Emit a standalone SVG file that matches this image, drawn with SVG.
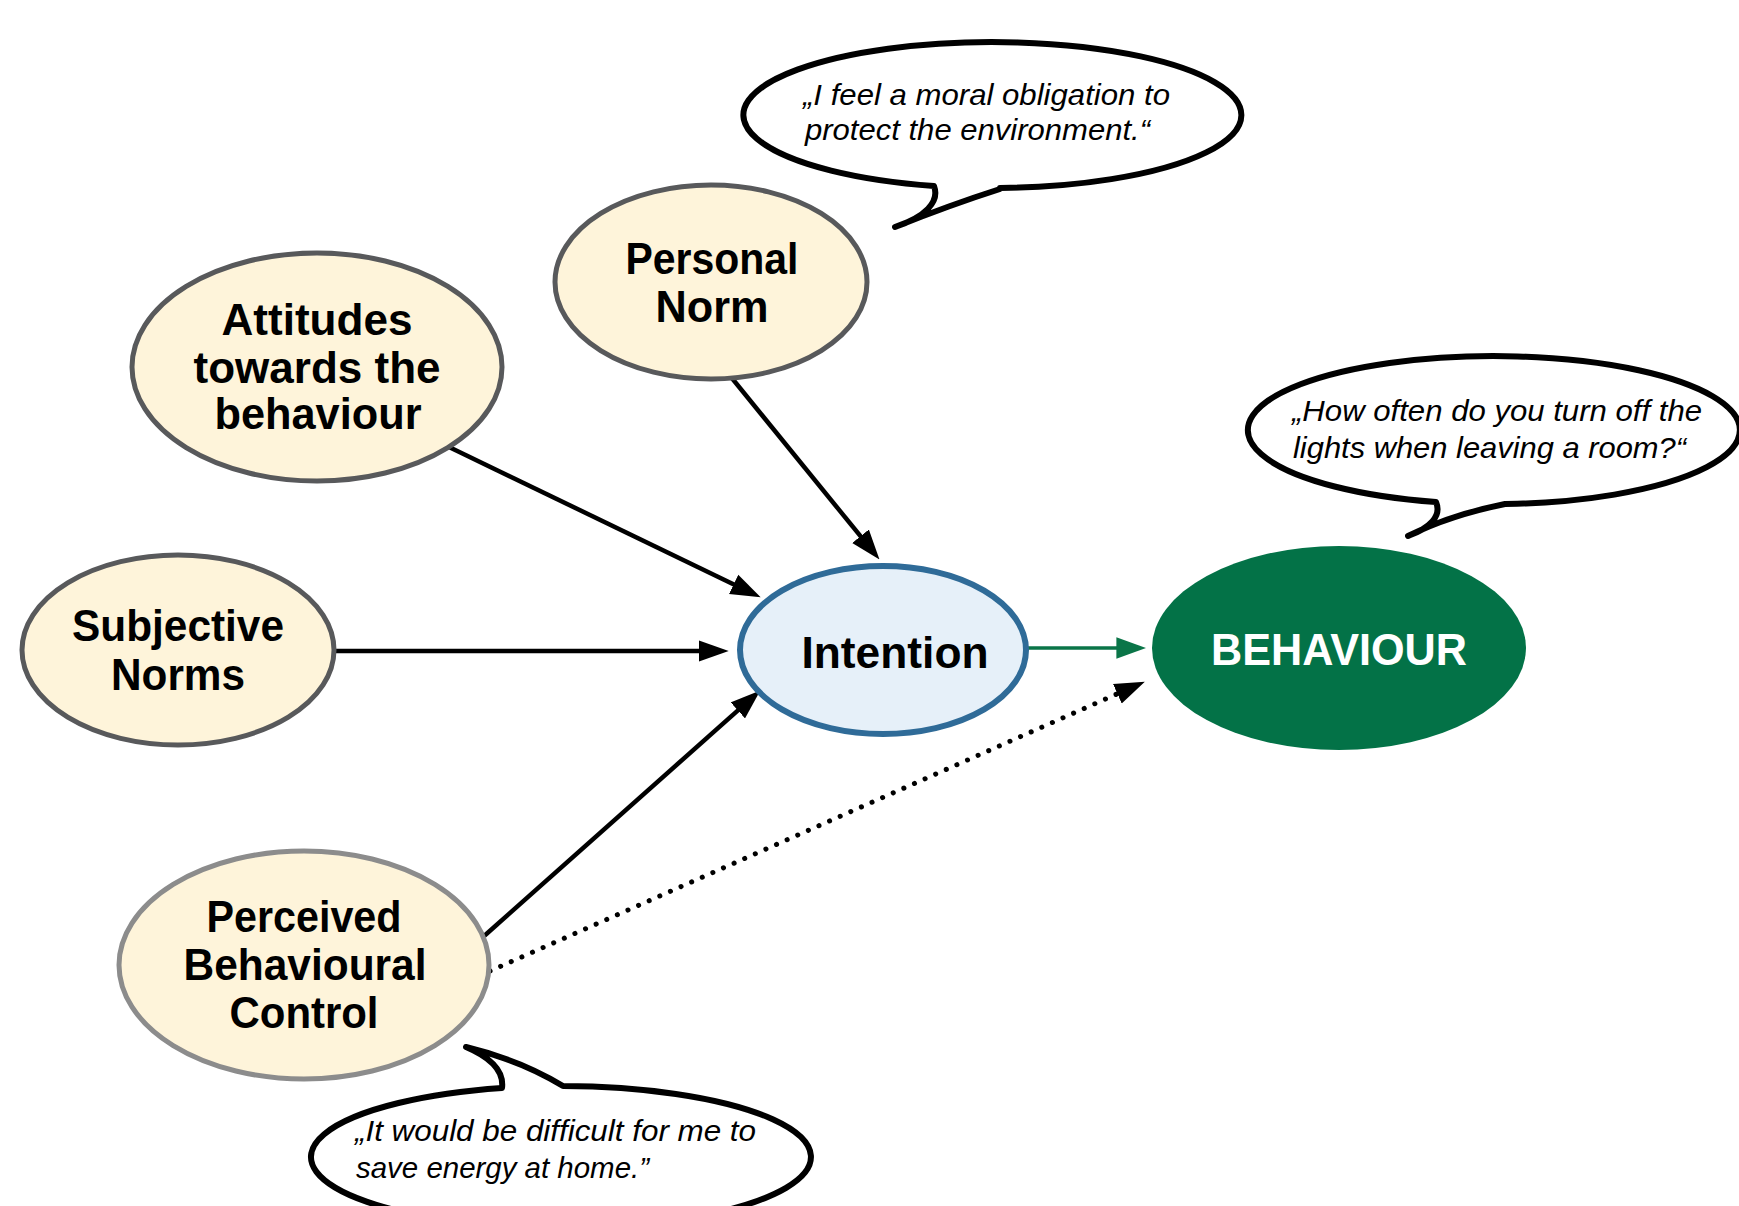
<svg xmlns="http://www.w3.org/2000/svg" width="1739" height="1206" viewBox="0 0 1739 1206">
<style>
.bg{fill:#ffffff}
.node{fill:#fef4da;stroke:#58595b;stroke-width:5}
.node2{fill:#fef4da;stroke:#8c8c8c;stroke-width:5}
.lbl{font-family:"Liberation Sans",Arial,sans-serif;font-weight:bold;font-size:44px;fill:#000;text-anchor:middle}
.quote{font-family:"Liberation Sans",Arial,sans-serif;font-style:italic;font-size:30px;fill:#000}
.bubble{fill:#fff;stroke:#000;stroke-width:6;stroke-linejoin:round}
.arr{fill:none;stroke:#000;stroke-width:4.5}
</style>
<defs>
<marker id="ah" markerUnits="userSpaceOnUse" markerWidth="30" markerHeight="22" refX="18" refY="10" orient="auto" viewBox="0 0 28 20">
<path d="M0,0 L28,10 L0,20 z" fill="#000"/>
</marker>
<marker id="ahg" markerUnits="userSpaceOnUse" markerWidth="30" markerHeight="22" refX="19" refY="10.5" orient="auto" viewBox="0 0 29 21">
<path d="M0,0 L29,10.5 L0,21 z" fill="#0a7548"/>
</marker>
<filter id="soft" x="-5%" y="-5%" width="110%" height="110%"><feGaussianBlur stdDeviation="0.7"/></filter>
</defs>
<rect class="bg" x="0" y="0" width="1739" height="1206"/>

<g id="connectors">
<line class="arr" x1="449" y1="447" x2="751" y2="592.7" marker-end="url(#ah)"/>
<line class="arr" x1="731" y1="377" x2="872.7" y2="551.2" marker-end="url(#ah)"/>
<line class="arr" x1="332" y1="651" x2="718" y2="651" marker-end="url(#ah)"/>
<line class="arr" x1="483" y1="937" x2="752.3" y2="697.6" marker-end="url(#ah)"/>
<line x1="1028" y1="648" x2="1136" y2="648" stroke="#0a7548" stroke-width="3.5" marker-end="url(#ahg)"/>
<line x1="490" y1="971" x2="1135" y2="686" stroke="#000" stroke-width="5" stroke-linecap="round" stroke-dasharray="0.1 11.5" marker-end="url(#ah)"/>
</g>

<g id="bubble-personal">
<path class="bubble" filter="url(#soft)" d="M1000 188 A249 73 0 1 0 934 186 C940 202 925 217 895 227 Q950 205 1000 189 Z"/>
<text class="quote" x="803" y="105" textLength="367" lengthAdjust="spacingAndGlyphs">„I feel a moral obligation to</text>
<text class="quote" x="805" y="140" textLength="345" lengthAdjust="spacingAndGlyphs">protect the environment.“</text>
</g>

<g id="bubble-behaviour">
<path class="bubble" filter="url(#soft)" d="M1505 504 A246 74 0 1 0 1436 502 C1442 516 1430 528 1408 536 Q1450 515 1505 504 Z"/>
<text class="quote" x="1292" y="421" textLength="410" lengthAdjust="spacingAndGlyphs">„How often do you turn off the</text>
<text class="quote" x="1293" y="458" textLength="393" lengthAdjust="spacingAndGlyphs">lights when leaving a room?“</text>
</g>

<g id="bubble-pbc">
<path class="bubble" filter="url(#soft)" d="M502 1088 A250 71 0 1 0 563 1086 Q520 1060 466 1047 C492 1058 504 1072 502 1088 Z"/>
<text class="quote" x="355" y="1141" textLength="401" lengthAdjust="spacingAndGlyphs">„It would be difficult for me to</text>
<text class="quote" x="356" y="1178" textLength="293" lengthAdjust="spacingAndGlyphs">save energy at home.”</text>
</g>

<g id="node-attitudes">
<ellipse class="node" cx="317" cy="367" rx="185" ry="114"/>
<text class="lbl" x="317" y="335" textLength="191" lengthAdjust="spacingAndGlyphs">Attitudes</text>
<text class="lbl" x="317" y="383" textLength="247" lengthAdjust="spacingAndGlyphs">towards the</text>
<text class="lbl" x="318" y="429" textLength="207" lengthAdjust="spacingAndGlyphs">behaviour</text>
</g>

<g id="node-personal">
<ellipse class="node" cx="711" cy="282" rx="156" ry="97"/>
<text class="lbl" x="712" y="274" textLength="173" lengthAdjust="spacingAndGlyphs">Personal</text>
<text class="lbl" x="712" y="322" textLength="113" lengthAdjust="spacingAndGlyphs">Norm</text>
</g>

<g id="node-subjective">
<ellipse class="node" cx="178" cy="650" rx="156" ry="95"/>
<text class="lbl" x="178" y="641" textLength="212" lengthAdjust="spacingAndGlyphs">Subjective</text>
<text class="lbl" x="178" y="690" textLength="134" lengthAdjust="spacingAndGlyphs">Norms</text>
</g>

<g id="node-pbc">
<ellipse class="node2" cx="304" cy="965" rx="185" ry="114"/>
<text class="lbl" x="304" y="932" textLength="195" lengthAdjust="spacingAndGlyphs">Perceived</text>
<text class="lbl" x="305" y="980" textLength="243" lengthAdjust="spacingAndGlyphs">Behavioural</text>
<text class="lbl" x="304" y="1028" textLength="149" lengthAdjust="spacingAndGlyphs">Control</text>
</g>

<g id="node-intention">
<ellipse cx="883" cy="650" rx="143" ry="84" fill="#e6f0f9" stroke="#2f6b98" stroke-width="6"/>
<text class="lbl" x="895" y="668" textLength="187" lengthAdjust="spacingAndGlyphs">Intention</text>
</g>

<g id="node-behaviour">
<ellipse cx="1339" cy="648" rx="187" ry="102" fill="#037247"/>
<text class="lbl" x="1339" y="665" fill="#ffffff" style="fill:#ffffff" textLength="256" lengthAdjust="spacingAndGlyphs">BEHAVIOUR</text>
</g>
</svg>
